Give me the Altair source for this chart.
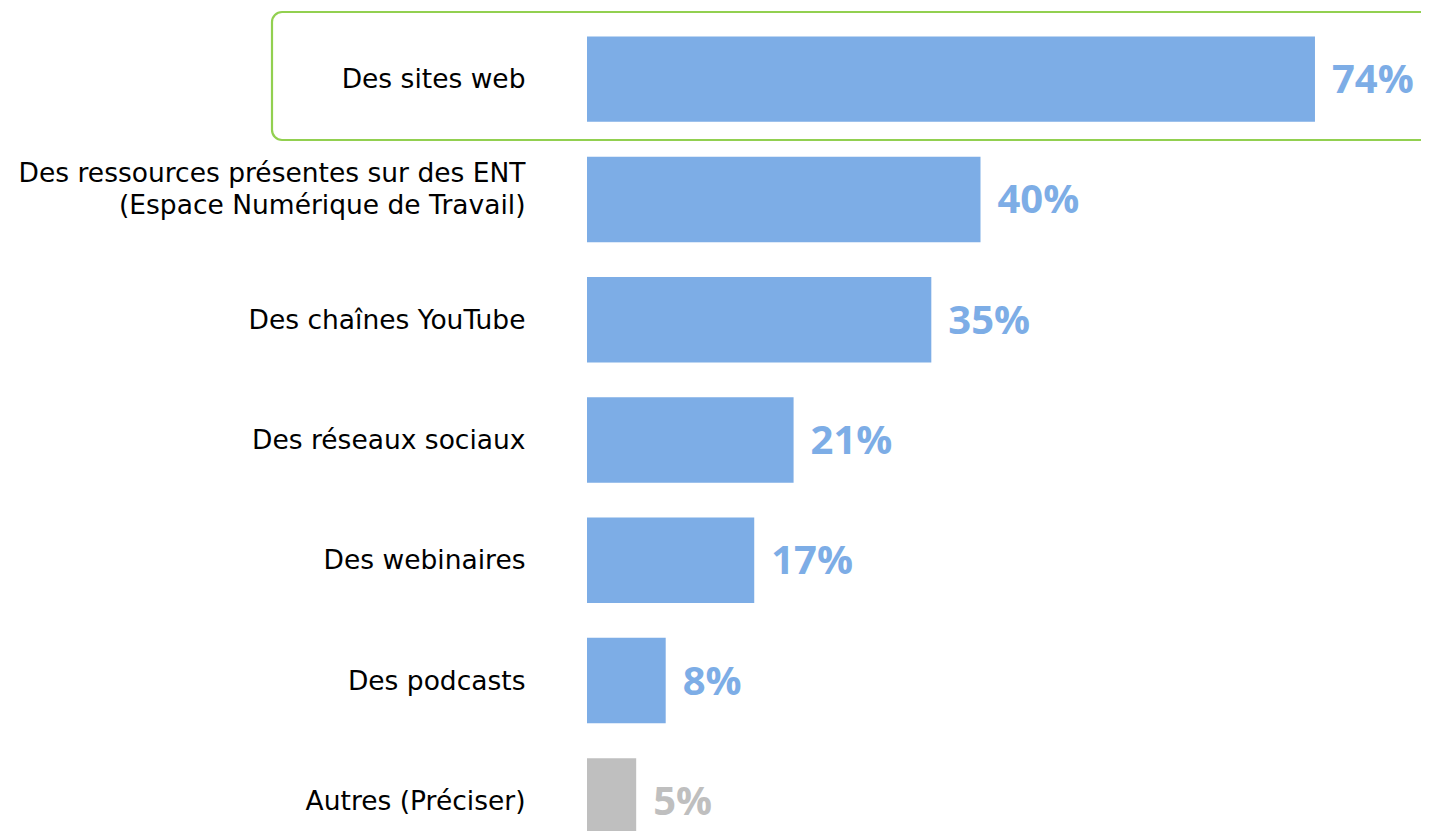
import altair as alt
import pandas as pd

categories = [
    "Des sites web",
    "Des ressources présentes sur des ENT|(Espace Numérique de Travail)",
    "Des chaînes YouTube",
    "Des réseaux sociaux",
    "Des webinaires",
    "Des podcasts",
    "Autres (Préciser)",
]
values = [74, 40, 35, 21, 17, 8, 5]
groups = ["main", "main", "main", "main", "main", "main", "other"]
group_colors = ["#7DADE6", "#BFBFBF"]

df = pd.DataFrame({"cat": categories, "val": values, "grp": groups})
df["lbl"] = df["val"].astype(str) + "%"

y_enc = alt.Y(
    "cat:N",
    sort=categories,
    scale=alt.Scale(range=[0, 842], paddingInner=0.29, paddingOuter=0.145),
    axis=alt.Axis(
        title=None,
        domain=False,
        ticks=False,
        labelPadding=62,
        labelFont="DejaVu Sans",
        labelFontSize=26.5,
        labelColor="#000000",
        labelLimit=800,
        labelLineHeight=32,
        labelOffset={
            "condition": {"test": "indexof(datum.label, '|') >= 0", "value": -25},
            "value": 1,
        },
        labelExpr="split(datum.label, '|')",
    ),
)
x_enc = alt.X("val:Q", scale=alt.Scale(domain=[0, 80]), axis=None)
color_enc = alt.Color(
    "grp:N",
    scale=alt.Scale(domain=["main", "other"], range=group_colors),
    legend=None,
)

bars = alt.Chart(df).mark_bar().encode(y=y_enc, x=x_enc, color=color_enc)
texts = alt.Chart(df).mark_text(
    align="left", baseline="middle", dx=17, dy=2,
    font="Open Sans", fontWeight="bold", fontSize=40,
).encode(y=alt.Y("cat:N", sort=categories), x="val:Q", text="lbl:N", color=color_enc)

box = alt.Chart(pd.DataFrame({"k": [0]})).mark_rect(
    fill="transparent", stroke="#92D050", strokeWidth=2.2, cornerRadius=10
).encode(
    x=alt.value(-315), x2=alt.value(860), y=alt.value(-7), y2=alt.value(121)
)

chart = (
    alt.layer(box, bars, texts)
    .properties(
        width=787,
        height=812,
        autosize=alt.AutoSizeParams(type="none"),
        padding={"left": 579, "top": 11, "right": 47, "bottom": 0},
    )
    .configure_view(stroke=None)
)

chart.save("out.html", embed_options={"renderer": "svg", "actions": False})
